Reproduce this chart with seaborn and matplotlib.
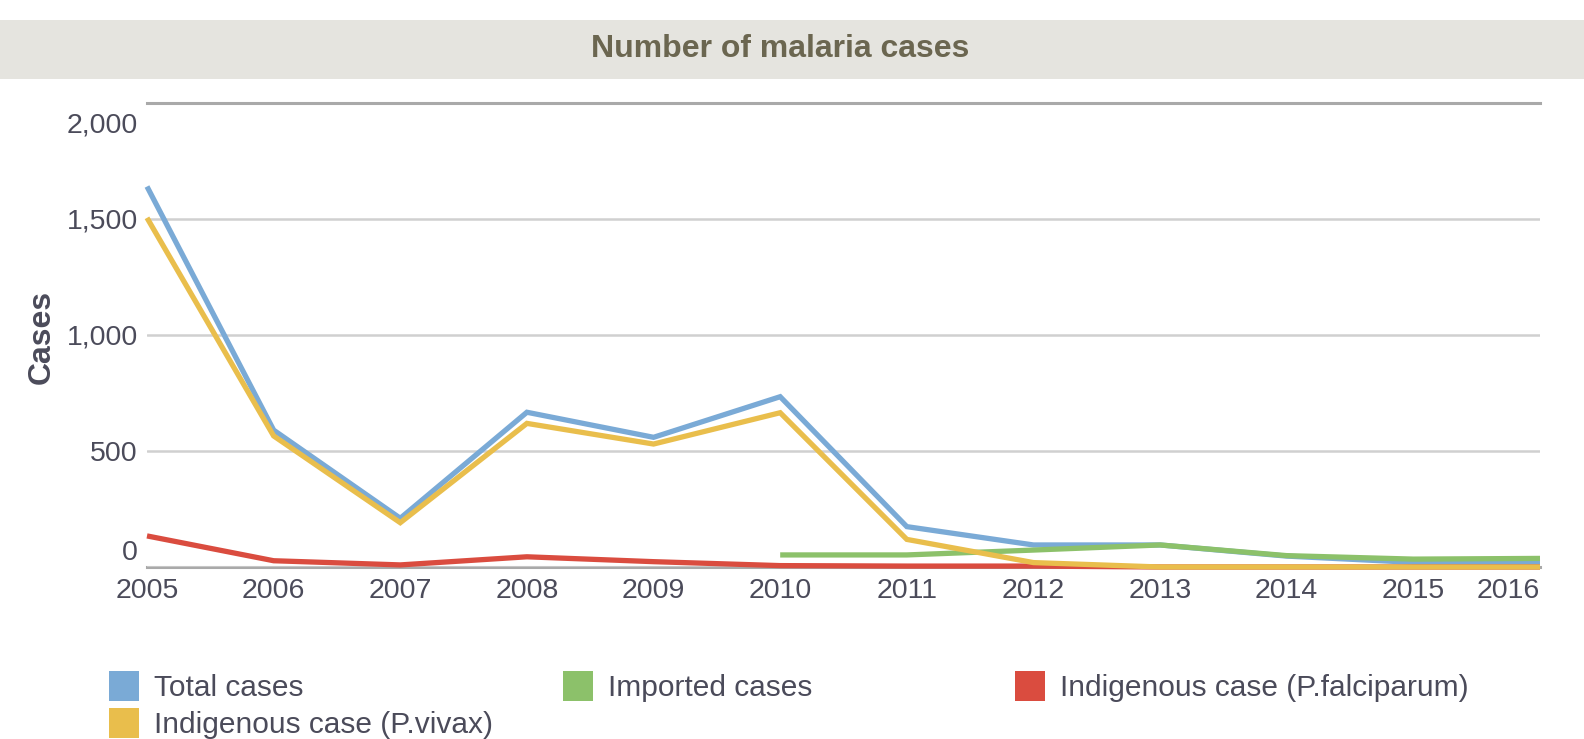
import numpy as np
import pandas as pd
import matplotlib
matplotlib.use("Agg")
import matplotlib.pyplot as plt
from matplotlib.patches import Rectangle, Patch
from matplotlib.transforms import ScaledTranslation
import seaborn as sns

# ---- data ----
years = [2005, 2006, 2007, 2008, 2009, 2010, 2011, 2012, 2013, 2014, 2015, 2016]
total_cases = [1640, 590, 210, 667, 559, 734, 174, 95, 95, 47, 20, 20]
imported_cases = [np.nan, np.nan, np.nan, np.nan, np.nan, 52, 52, 73, 95, 49, 34, 37]
falciparum_cases = [134, 27, 9, 44, 23, 6, 4, 4, 0, 0, 0, 0]
vivax_cases = [1505, 565, 191, 619, 530, 665, 119, 19, 0, 0, 0, 0]

series_names = ["Total cases", "Imported cases",
                "Indigenous case (P.falciparum)", "Indigenous case (P.vivax)"]
series_colors = ["#7aaad6", "#8cc16a", "#da4c3f", "#e9be4c"]
y_ticks = [0, 500, 1000, 1500, 2000]
title_text = "Number of malaria cases"
y_label = "Cases"

df = pd.DataFrame({
    "year": years,
    series_names[0]: total_cases,
    series_names[1]: imported_cases,
    series_names[2]: falciparum_cases,
    series_names[3]: vivax_cases,
}).melt(id_vars="year", var_name="series", value_name="cases")

palette = dict(zip(series_names, series_colors))

# ---- style ----
sns.set_theme(style="white")
plt.rcParams["font.family"] = ["Liberation Sans", "DejaVu Sans"]
text_color = "#4b4b5a"

fig = plt.figure(figsize=(15.84, 7.39), dpi=100)
ax = fig.add_axes([147 / 1584, 1 - 567 / 739, (1540 - 147) / 1584, (567 - 103) / 739])

# title bar
fig.patches.append(Rectangle((0, 1 - 79 / 739), 1, 59 / 739, transform=fig.transFigure,
                             facecolor="#e5e4df", edgecolor="none", zorder=0))
fig.text(780 / 1584, 1 - 49 / 739, title_text, ha="center", va="center",
         fontsize=23, fontweight="bold", color="#6b6650")

sns.lineplot(data=df, x="year", y="cases", hue="series", hue_order=series_names,
             palette=palette, estimator=None, errorbar=None, linewidth=3.8,
             ax=ax, legend=False)
for ln in ax.lines:
    ln.set_clip_on(False)
    ln.set_solid_capstyle("butt")
    ln.set_solid_joinstyle("miter")

ax.set_xlim(years[0], years[-1])
ax.set_ylim(y_ticks[0], y_ticks[-1])
ax.set_yticks(y_ticks)
ax.set_yticklabels([f"{v:,}" for v in y_ticks])
ax.set_xticks(years)
ax.set_xticklabels([str(y) for y in years])

ax.grid(axis="y", color="#d0d0d0", linewidth=1.8)
ax.grid(axis="x", visible=False)
ax.set_axisbelow(True)
for s in ["left", "right"]:
    ax.spines[s].set_visible(False)
for s in ["top", "bottom"]:
    ax.spines[s].set_visible(True)
    ax.spines[s].set_color("#a9a9a9")
    ax.spines[s].set_linewidth(2.2)
ax.spines["bottom"].set_zorder(0.5)

ax.tick_params(axis="both", length=0, labelsize=20.5, labelcolor=text_color)
ax.tick_params(axis="y", pad=6.5)
ax.tick_params(axis="x", pad=8)

yticks_objs = ax.yaxis.get_major_ticks()
top_lab = yticks_objs[-1].label1
top_lab.set_transform(top_lab.get_transform() + ScaledTranslation(0, -0.20, fig.dpi_scale_trans))
bot_lab = yticks_objs[0].label1
bot_lab.set_transform(bot_lab.get_transform() + ScaledTranslation(0, 0.17, fig.dpi_scale_trans))
xlabels = ax.get_xticklabels()
xlabels[-1].set_ha("right")

ax.set_xlabel("")
ax.set_ylabel(y_label, fontsize=23, fontweight="bold", color=text_color)
ax.yaxis.label.set_va("center")
ax.yaxis.set_label_coords((42 - 147) / (1540 - 147), 0.495)

# legend (three columns placed like the original)
def make_legend(names, x_px):
    handles = [Patch(facecolor=palette[n], edgecolor="none") for n in names]
    leg = fig.legend(handles, names, loc="upper left",
                     bbox_to_anchor=(x_px / 1584, 1 - 671 / 739),
                     frameon=False, fontsize=21.5, labelcolor=text_color,
                     handlelength=1.0, handleheight=1.15, handletextpad=0.52,
                     labelspacing=0.2, borderpad=0, borderaxespad=0)
    return leg

make_legend([series_names[0], series_names[3]], 109)
make_legend([series_names[1]], 563)
make_legend([series_names[2]], 1015)

fig.savefig("out.png", dpi=100, facecolor="white")
